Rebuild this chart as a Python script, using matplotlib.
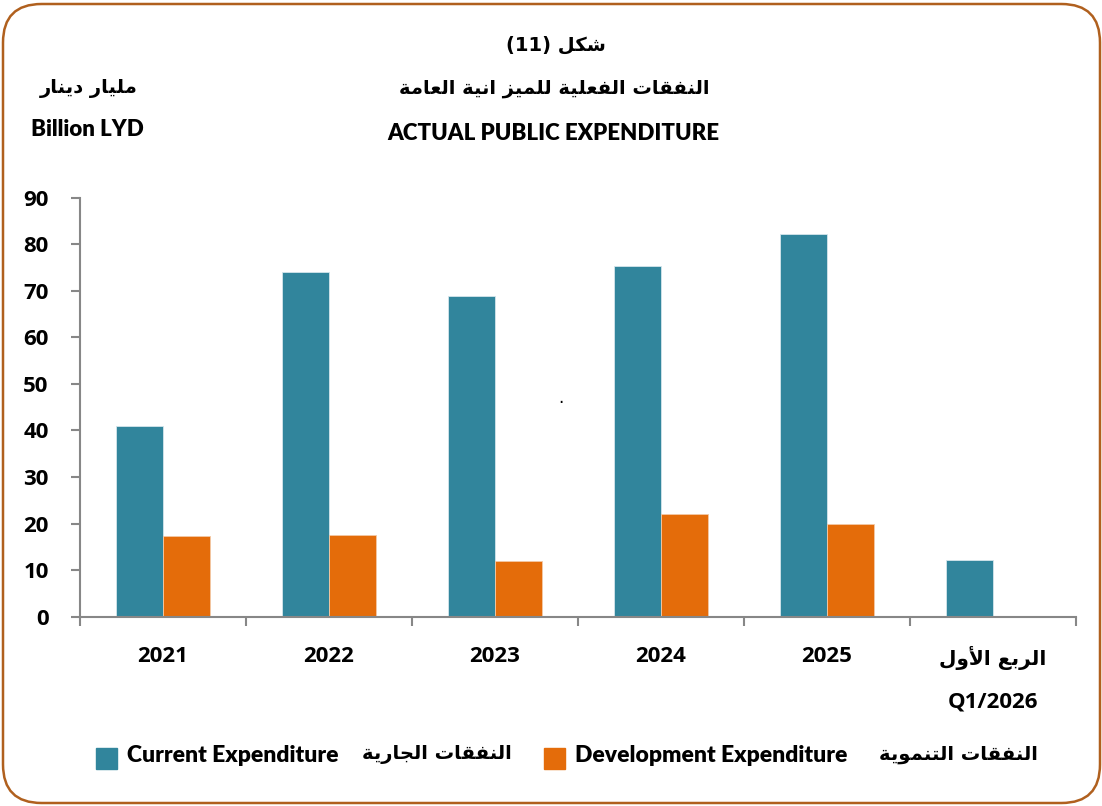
import numpy as np
import matplotlib
matplotlib.use('Agg')
import matplotlib.pyplot as plt
from matplotlib.patches import FancyBboxPatch, Rectangle

# data
years = ['2021', '2022', '2023', '2024', '2025']
q_label = 'Q1/2026'
current = [41.0, 74.1, 68.9, 75.3, 82.3, 12.1]
development = [17.3, 17.5, 12.0, 22.0, 20.0, np.nan]
y_ticks = [0, 10, 20, 30, 40, 50, 60, 70, 80, 90]

teal = '#31859C'
orange = '#E46C0A'
grey = '#878787'

# arabic shaping (matplotlib has no bidi / joining), presentation forms + reversal
FORMS = {
    'ا': (0xFE8D, 2), 'أ': (0xFE83, 2), 'إ': (0xFE87, 2), 'آ': (0xFE81, 2),
    'ب': (0xFE8F, 4), 'ة': (0xFE93, 2), 'ت': (0xFE95, 4), 'ث': (0xFE99, 4),
    'ج': (0xFE9D, 4), 'ح': (0xFEA1, 4), 'خ': (0xFEA5, 4), 'د': (0xFEA9, 2),
    'ذ': (0xFEAB, 2), 'ر': (0xFEAD, 2), 'ز': (0xFEAF, 2), 'س': (0xFEB1, 4),
    'ش': (0xFEB5, 4), 'ص': (0xFEB9, 4), 'ض': (0xFEBD, 4), 'ط': (0xFEC1, 4),
    'ظ': (0xFEC5, 4), 'ع': (0xFEC9, 4), 'غ': (0xFECD, 4), 'ف': (0xFED1, 4),
    'ق': (0xFED5, 4), 'ك': (0xFED9, 4), 'ل': (0xFEDD, 4), 'م': (0xFEE1, 4),
    'ن': (0xFEE5, 4), 'ه': (0xFEE9, 4), 'و': (0xFEED, 2), 'ى': (0xFEEF, 2),
    'ي': (0xFEF1, 4),
}
LAM_ALEF = {'ا': 0xFEFB, 'أ': 0xFEF7, 'إ': 0xFEF9, 'آ': 0xFEF5}


def ar(text):
    out = []
    i = 0
    n = len(text)
    while i < n:
        c = text[i]
        if c not in FORMS:
            out.append(c)
            i += 1
            continue
        prev = text[i - 1] if i > 0 else ''
        linked = prev in FORMS and FORMS[prev][1] == 4
        if c == 'ل' and i + 1 < n and text[i + 1] in LAM_ALEF:
            out.append(chr(LAM_ALEF[text[i + 1]] + (1 if linked else 0)))
            i += 2
            continue
        start, k = FORMS[c]
        nxt = text[i + 1] if i + 1 < n else ''
        links_next = k == 4 and nxt in FORMS
        if linked and links_next:
            code = start + 3
        elif linked:
            code = start + 1
        elif links_next:
            code = start + 2
        else:
            code = start
        out.append(chr(code))
        i += 1
    return ''.join(reversed(out))


W, H = 1102, 806
fig = plt.figure(figsize=(W / 100, H / 100), dpi=100)


def fx(x):
    return x / W


def fy(y):
    return 1 - y / H


en = ['Lato', 'DejaVu Sans']
num = ['Open Sans', 'DejaVu Sans']
arf = ['DejaVu Sans']

# frame
fig.patches.append(FancyBboxPatch((fx(3), fy(803)), fx(1097), fy(4) - fy(803),
                                  boxstyle='round,pad=0,rounding_size=0.035',
                                  transform=fig.transFigure, fill=False,
                                  edgecolor='#B0601E', linewidth=1.8,
                                  mutation_aspect=W / H))

ax = fig.add_axes([fx(80), fy(616.7), fx(1076) - fx(80), fy(197.7) - fy(616.7)])
x = np.arange(len(current))
bw = 0.285
ax.bar(x - bw / 2, current, bw, color=teal, edgecolor='#d5e6ec', linewidth=0.6)
ax.bar(x + bw / 2, development, bw, color=orange, edgecolor='#f3c9a6', linewidth=0.6)

ax.set_xlim(-0.5, len(current) - 0.5)
ax.set_ylim(0, 90)
ax.set_yticks(y_ticks)
ax.set_xticks(np.arange(-0.5, len(current), 1))
ax.set_xticklabels([])
for s in ['top', 'right']:
    ax.spines[s].set_visible(False)
for s in ['left', 'bottom']:
    ax.spines[s].set_color(grey)
    ax.spines[s].set_linewidth(1.5)
ax.tick_params(axis='both', direction='out', length=6.5, width=1.5, color=grey)
ax.tick_params(axis='y', pad=16)
for lab in ax.get_yticklabels():
    lab.set_fontfamily(num)
    lab.set_fontweight('bold')
    lab.set_fontsize(16)

for i, yr in enumerate(years):
    ax.text(i, -0.094, yr, transform=ax.get_xaxis_transform(), ha='center', va='center',
            fontsize=16, fontweight='bold', family=num)
ax.text(5, -0.099, ar('الربع الأول'), transform=ax.get_xaxis_transform(), ha='center',
        va='center', fontsize=14.5, fontweight='bold', family=arf)
ax.text(5, -0.203, q_label, transform=ax.get_xaxis_transform(), ha='center', va='center',
        fontsize=16, fontweight='bold', family=num)

# titles
fig.text(fx(556), fy(45), '(11) ' + ar('شكل'), ha='center', va='center',
         fontsize=14, fontweight='bold', family=arf)
fig.text(fx(554), fy(88), ar('النفقات الفعلية للميز انية العامة'), ha='center', va='center',
         fontsize=14, fontweight='bold', family=arf)
fig.text(fx(553), fy(133), 'ACTUAL PUBLIC EXPENDITURE', ha='center', va='center',
         fontsize=16, fontweight='heavy', family=en)
fig.text(fx(87), fy(130), 'Billion LYD', ha='center', va='center',
         fontsize=16, fontweight='heavy', family=en)
fig.text(fx(89), fy(88), ar('مليار دينار'), ha='center', va='center',
         fontsize=14, fontweight='bold', family=arf)
fig.text(fx(561), fy(398), '.', ha='center', va='center', fontsize=12, color='black')

# legend
fig.patches.append(Rectangle((fx(96), fy(769)), fx(21), fy(748) - fy(769),
                             transform=fig.transFigure, color=teal))
fig.text(fx(127), fy(756), 'Current Expenditure', ha='left', va='center',
         fontsize=16.5, fontweight='heavy', family=en)
fig.text(fx(512), fy(754), ar('النفقات الجارية'), ha='right', va='center',
         fontsize=14, fontweight='bold', family=arf)
fig.patches.append(Rectangle((fx(544), fy(769)), fx(21), fy(748) - fy(769),
                             transform=fig.transFigure, color=orange))
fig.text(fx(575), fy(756), 'Development Expenditure', ha='left', va='center',
         fontsize=16.5, fontweight='heavy', family=en)
fig.text(fx(1038), fy(754), ar('النفقات التنموية'), ha='right', va='center',
         fontsize=14, fontweight='bold', family=arf)

fig.savefig('out.png', dpi=100)
